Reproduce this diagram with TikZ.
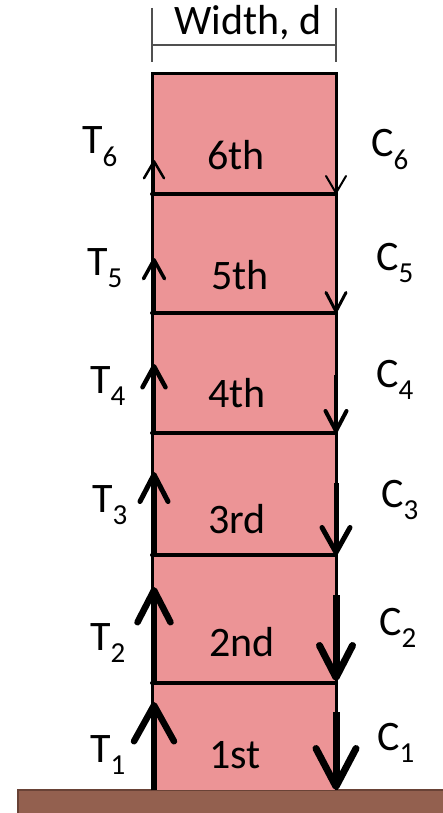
\documentclass[tikz,border=0pt]{standalone}
\usepackage{fontspec}
\setmainfont{Carlito}
\usetikzlibrary{arrows.meta}
\definecolor{wall}{RGB}{236,148,150}
\definecolor{earth}{RGB}{147,96,79}
\definecolor{earthedge}{RGB}{105,66,54}
\definecolor{dimgray}{RGB}{80,80,80}
\newcommand{\forcelab}[2]{#1\raisebox{-0.3em}{\fontsize{29}{29}\selectfont #2}}
\tikzset{
  lab/.style={anchor=base west, inner sep=0pt, font=\fontsize{42}{46}\selectfont},
  floorline/.style={line width=4pt, line cap=round},
  force/.style n args={3}{line width=#1, -{Straight Barb[length=#2, width=#3, line cap=round, line join=round]}},
}
\begin{document}
\begin{tikzpicture}[x=1pt,y=-1pt]
\useasboundingbox (0,0) rectangle (443,813);
% ground
\filldraw[fill=earth, draw=earthedge, line width=2pt] (18,790) rectangle (460,830);
% building
\fill[wall] (152,74) rectangle (336,790);
\draw[line width=3pt] (152,790) -- (152,74) -- (336,74) -- (336,790);
% floors
\foreach \yy/\nm in {194/l6,313/l5,433/l4,555/l3,683/l2} {
  \coordinate (\nm w) at (152,\yy);
  \coordinate (\nm e) at (336,\yy);
  \draw[floorline] (\nm w) -- (\nm e);
}
% dimension
\coordinate (dl1) at (152,8); \coordinate (dl2) at (152,62);
\coordinate (dr1) at (336,8); \coordinate (dr2) at (336,62);
\coordinate (dm1) at (152,45); \coordinate (dm2) at (336,45);
\draw[dimgray, line width=1.6pt] (dl1) -- (dl2) (dr1) -- (dr2) (dm1) -- (dm2);
\node[lab] (wd) at (174,35) {Width, d};
% tension arrows
\foreach \ys/\ye/\w/\L/\W/\n in {790/702/6.5pt/36pt/40pt/1, 683/587/6.5pt/32pt/33pt/2, 555/472/5pt/27pt/28pt/3, 433/364/4.5pt/21pt/23pt/4, 313/258/3.5pt/19pt/21pt/5, 194/160/2.5pt/17pt/20pt/6} {
  \coordinate (ts\n) at (154,\ys);
  \coordinate (te\n) at (154,\ye);
  \draw[force={\w}{\L}{\W}] (ts\n) -- (te\n);
}
% compression arrows
\foreach \ys/\ye/\w/\L/\W/\n in {712/790/7pt/38pt/40pt/1, 595/681/7pt/32pt/33pt/2, 483/555/5pt/25pt/28pt/3, 375/433/4pt/20pt/21pt/4, 266/313/3pt/19pt/20pt/5, 160/194/2pt/17pt/20pt/6} {
  \coordinate (cs\n) at (336,\ys);
  \coordinate (ce\n) at (336,\ye);
  \draw[force={\w}{\L}{\W}] (cs\n) -- (ce\n);
}
% labels
\node[lab] (T6) at (82,154) {\forcelab{T}{6}};
\node[lab] (T5) at (87,275) {\forcelab{T}{5}};
\node[lab] (T4) at (90,393) {\forcelab{T}{4}};
\node[lab] (T3) at (92,512) {\forcelab{T}{3}};
\node[lab] (T2) at (90,650) {\forcelab{T}{2}};
\node[lab] (T1) at (90,762) {\forcelab{T}{1}};
\node[lab] (C6) at (371,157) {\forcelab{C}{6}};
\node[lab] (C5) at (376,270) {\forcelab{C}{5}};
\node[lab] (C4) at (376,387) {\forcelab{C}{4}};
\node[lab] (C3) at (381,507) {\forcelab{C}{3}};
\node[lab] (C2) at (379,635) {\forcelab{C}{2}};
\node[lab] (C1) at (377,750) {\forcelab{C}{1}};
\node[lab] (F6) at (207,170) {6th};
\node[lab] (F5) at (211,289) {5th};
\node[lab] (F4) at (208,407) {4th};
\node[lab] (F3) at (208,533) {3rd};
\node[lab] (F2) at (209,656) {2nd};
\node[lab] (F1) at (209,768) {1st};
\end{tikzpicture}
\end{document}
